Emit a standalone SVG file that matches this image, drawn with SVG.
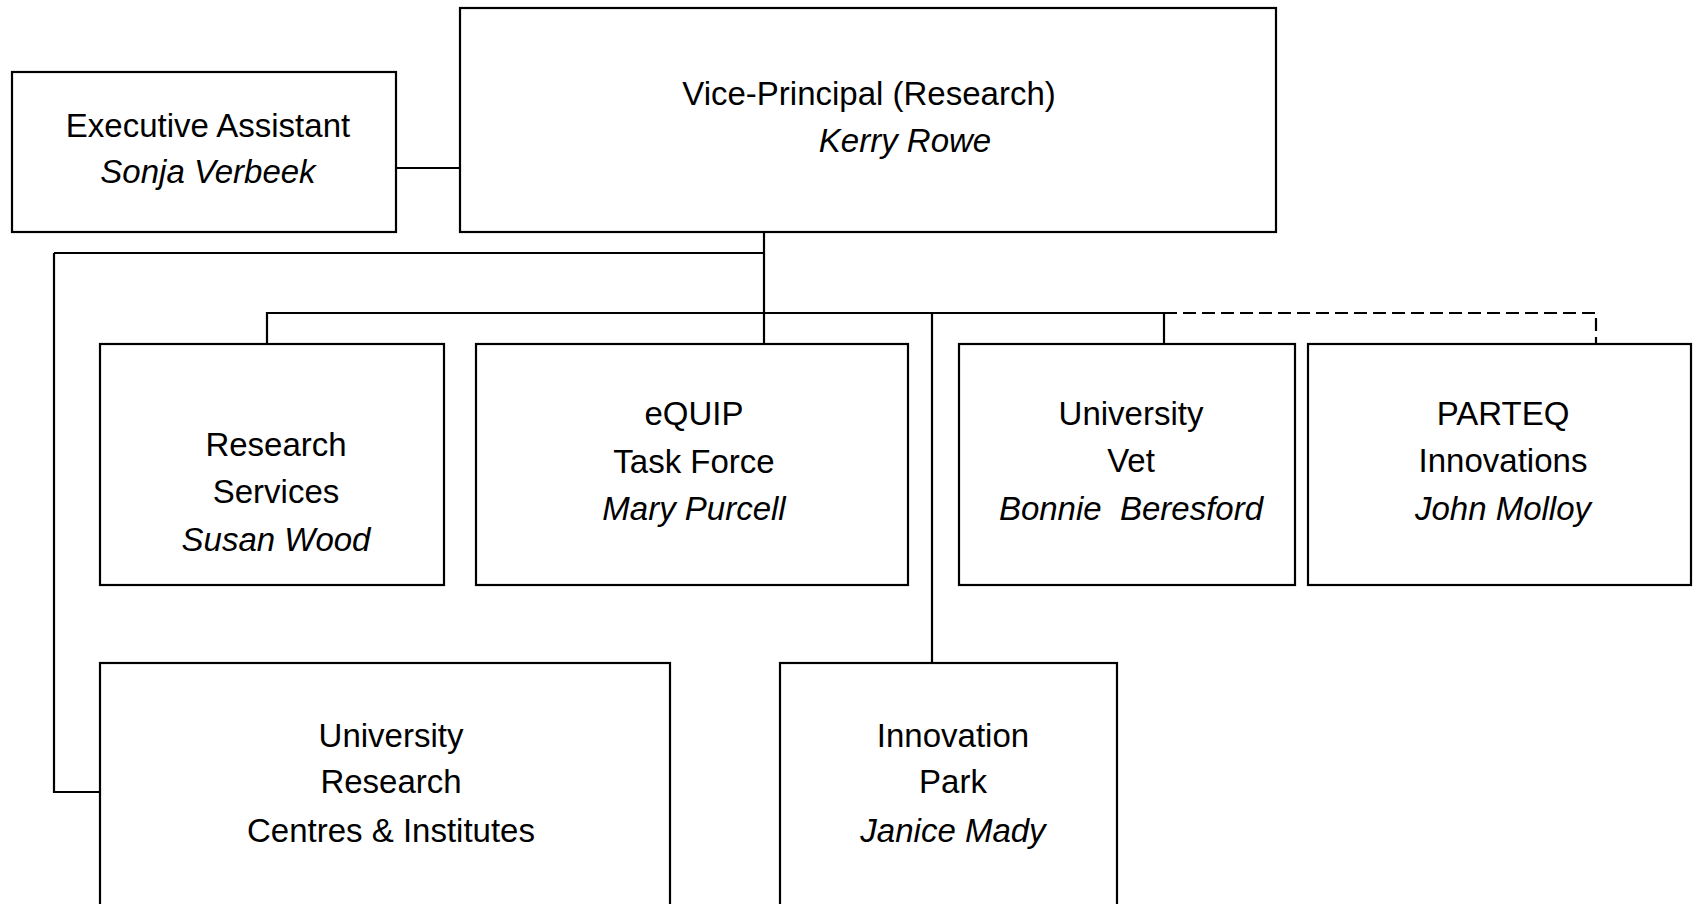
<svg xmlns="http://www.w3.org/2000/svg" width="1694" height="904" viewBox="0 0 1694 904">
  <style>
    .box { fill: #ffffff; stroke: #000000; stroke-width: 2.2; }
    .wire { fill: none; stroke: #000000; stroke-width: 2.2; }
    .dash { fill: none; stroke: #000000; stroke-width: 2.2; stroke-dasharray: 13 6; }
    text { font-family: "Liberation Sans", Arial, sans-serif; font-size: 33px; fill: #000000; text-anchor: middle; }
    .name { font-style: italic; }
  </style>
  <rect width="1694" height="904" fill="#ffffff"/>

  <!-- reporting lines -->
  <g id="connectors">
    <path class="wire" d="M396 168 H460"/>
    <path class="wire" d="M764 232 V344"/>
    <path class="wire" d="M54 253 H764"/>
    <path class="wire" d="M54 253 V792 H100"/>
    <path class="wire" d="M267 344 V313 H1164 V344"/>
    <path class="wire" d="M932 313 V663"/>
    <path class="dash" d="M1164 313 H1596 V344"/>
  </g>

  <g id="executive-assistant">
    <rect class="box" x="12" y="72" width="384" height="160"/>
    <text x="208" y="137">Executive Assistant</text>
    <text class="name" x="208" y="183">Sonja Verbeek</text>
  </g>

  <g id="vice-principal">
    <rect class="box" x="460" y="8" width="816" height="224"/>
    <text x="869" y="105">Vice-Principal (Research)</text>
    <text class="name" x="905" y="152">Kerry Rowe</text>
  </g>

  <g id="research-services">
    <rect class="box" x="100" y="344" width="344" height="241"/>
    <text x="276" y="456">Research</text>
    <text x="276" y="503">Services</text>
    <text class="name" x="276" y="551">Susan Wood</text>
  </g>

  <g id="equip-task-force">
    <rect class="box" x="476" y="344" width="432" height="241"/>
    <text x="694" y="425">eQUIP</text>
    <text x="694" y="473">Task Force</text>
    <text class="name" x="694" y="520">Mary Purcell</text>
  </g>

  <g id="university-vet">
    <rect class="box" x="959" y="344" width="336" height="241"/>
    <text x="1131" y="425">University</text>
    <text x="1131" y="472">Vet</text>
    <text class="name" x="1131" y="520" xml:space="preserve">Bonnie  Beresford</text>
  </g>

  <g id="parteq-innovations">
    <rect class="box" x="1308" y="344" width="383" height="241"/>
    <text x="1503" y="425">PARTEQ</text>
    <text x="1503" y="472">Innovations</text>
    <text class="name" x="1503" y="520">John Molloy</text>
  </g>

  <g id="research-centres">
    <rect class="box" x="100" y="663" width="570" height="260"/>
    <text x="391" y="747">University</text>
    <text x="391" y="793">Research</text>
    <text x="391" y="842">Centres &amp; Institutes</text>
  </g>

  <g id="innovation-park">
    <rect class="box" x="780" y="663" width="337" height="260"/>
    <text x="953" y="747">Innovation</text>
    <text x="953" y="793">Park</text>
    <text class="name" x="953" y="842">Janice Mady</text>
  </g>
</svg>
